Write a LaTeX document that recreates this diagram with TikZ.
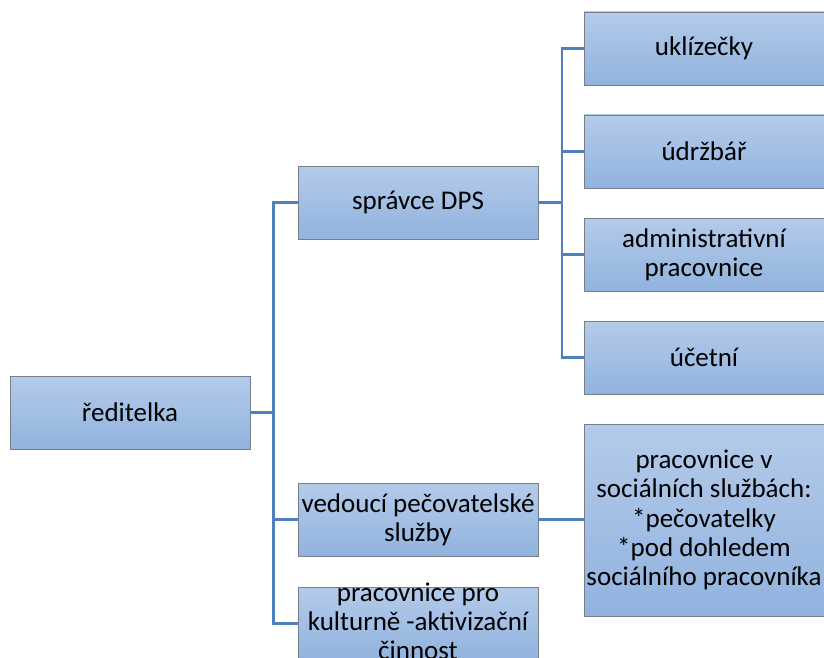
\documentclass[tikz,border=0pt]{standalone}
\usepackage{fontspec}
\setmainfont{Carlito}
\definecolor{boxtop}{RGB}{180,203,234}
\definecolor{boxbot}{RGB}{145,179,222}
\definecolor{boxline}{RGB}{118,126,136}
\definecolor{connc}{RGB}{79,129,189}
\begin{document}
\begin{tikzpicture}[x=1pt,y=-1pt,
  box/.style={draw=boxline, line width=0.9pt, top color=boxtop, bottom color=boxbot,
    inner sep=0pt, align=center, minimum width=240pt, minimum height=73pt,
    font=\fontsize{27}{29.3}\selectfont},
  lbl/.style={inner sep=0pt, align=center, font=\fontsize{27}{29.3}\selectfont},
  conn/.style={draw=connc, line width=2.2pt, line join=miter}]
\useasboundingbox (0,0) rectangle (824,658);
% boxes
\node[box] (red) at (130,412.5) {ředitelka};
\node[box] (spr) at (418,202.5) {správce DPS};
\node[box] (ved) at (418,519.5) {vedoucí pečovatelské\\služby};
\node[box] (pp)  at (418,623.5) {};
\node[lbl, yshift=2pt] (pptext) at (pp.center) {pracovnice pro\\kulturně -aktivizační\\činnost};
\node[box] (ukl) at (704,48.5) {uklízečky};
\node[box] (udr) at (704,151.5) {údržbář};
\node[box] (adm) at (704,254.5) {administrativní\\pracovnice};
\node[box] (uct) at (704,357.5) {účetní};
\node[box, minimum height=192pt] (soc) at (704,520) {pracovnice v\\sociálních službách:\\*pečovatelky\\*pod dohledem\\sociálního pracovníka};
% buses
\coordinate (b1) at (273.5,0);
\coordinate (b2) at (562,0);
% connectors
\draw[conn] (spr.west) -- (spr.west -| b1) |- (pp.west);
\draw[conn] (red.east) -- (red.east -| b1);
\draw[conn] (ved.west) -- (ved.west -| b1);
\draw[conn] (ukl.west) -- (ukl.west -| b2) |- (uct.west);
\draw[conn] (spr.east) -- (spr.east -| b2);
\draw[conn] (udr.west) -- (udr.west -| b2);
\draw[conn] (adm.west) -- (adm.west -| b2);
\draw[conn] (ved.east) -- (soc.west |- ved.east);
\end{tikzpicture}
\end{document}
